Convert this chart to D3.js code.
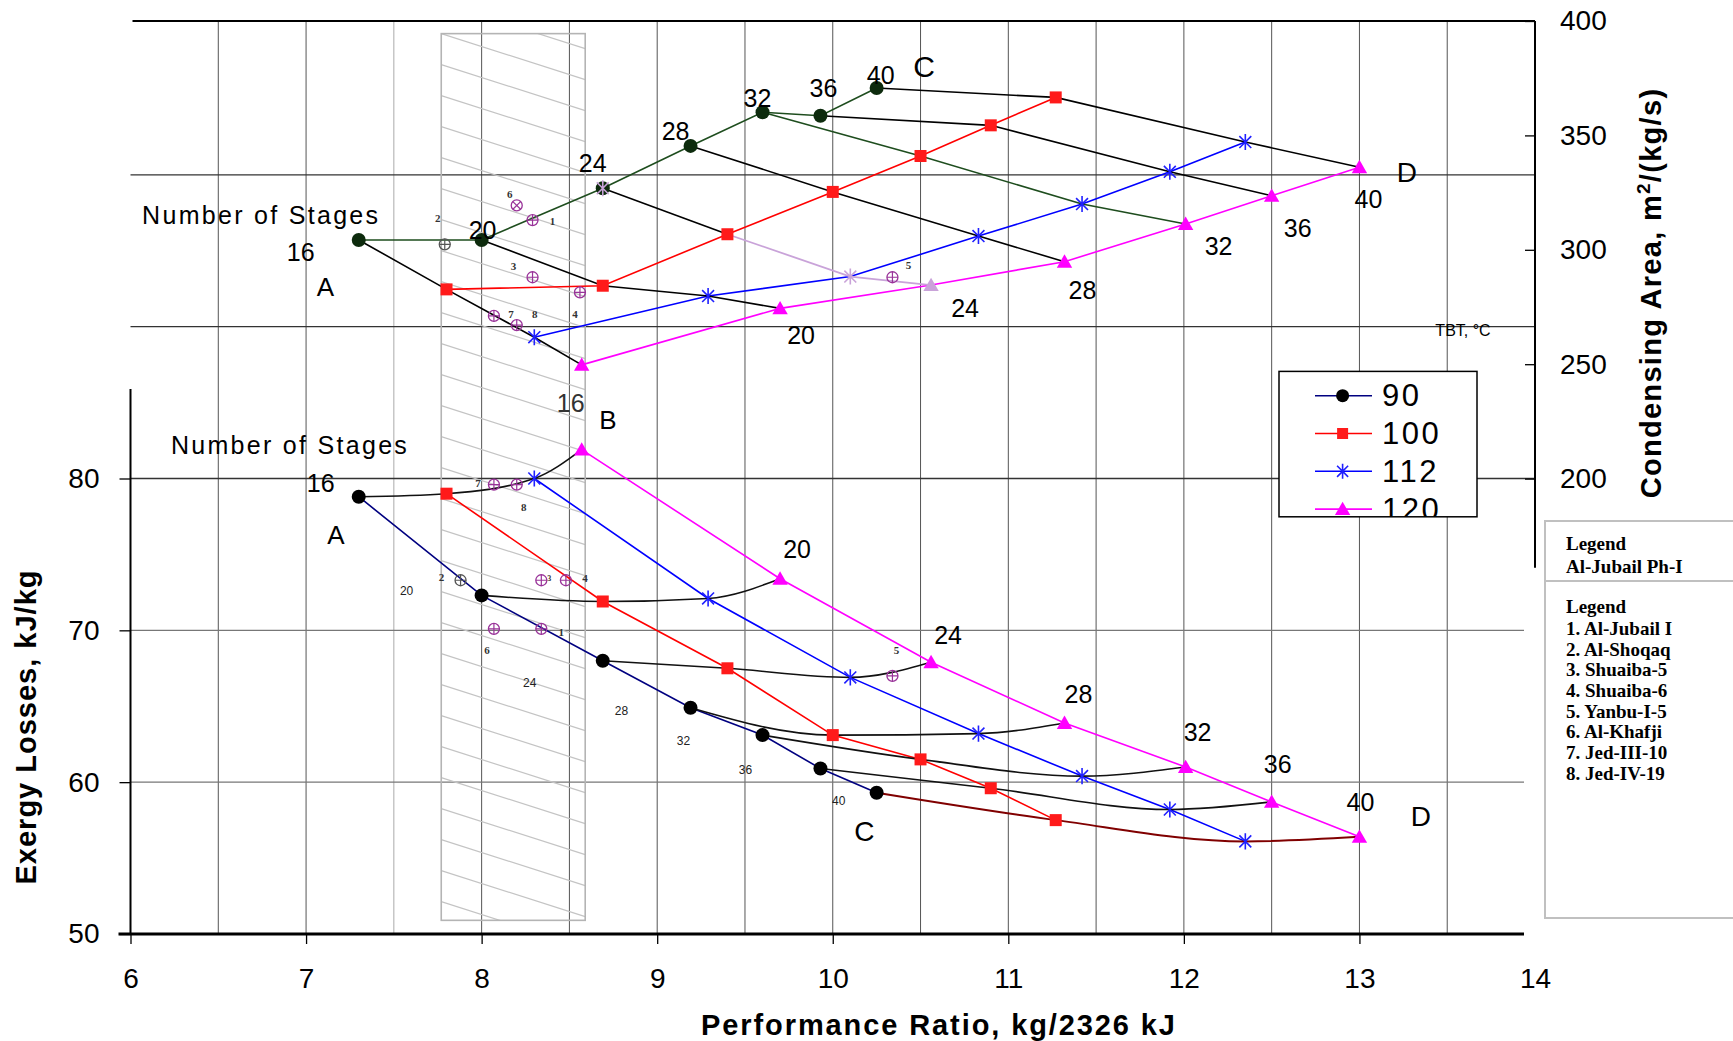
<!DOCTYPE html>
<html>
<head>
<meta charset="utf-8">
<script src="https://cdn.jsdelivr.net/npm/d3@7"></script>
<style>
  body { margin: 0; background: #fff; }
  svg { display: block; font-family: "Liberation Sans", Arial, sans-serif; }
</style>
</head>
<body>
<div id="chart"></div>
<script>
// ---- data ----
var stages = [16, 20, 24, 28, 32, 36, 40];
var tbtLevels = [90, 100, 112, 120];

// performance ratio, kg/2326 kJ (same for both panels)
var pr90  = [7.30, 8.00, 8.69, 9.19, 9.60, 9.93, 10.25];
var pr100 = [7.80, 8.69, 9.40, 10.00, 10.50, 10.90, 11.27];
var pr112 = [8.30, 9.29, 10.10, 10.83, 11.42, 11.92, 12.35];
var pr120 = [8.57, 9.70, 10.56, 11.32, 12.01, 12.50, 13.00];

// condensing area, m2/(kg/s)
var area90  = [304.3, 304.3, 326.9, 345.4, 360.1, 358.6, 370.7];
var area100 = [282.7, 284.3, 306.8, 325.3, 341.0, 354.4, 366.6];
var area112 = [261.8, 279.8, 288.3, 306.0, 320.0, 334.1, 347.1];
var area120 = [249.7, 274.4, 284.6, 294.8, 311.3, 323.6, 336.1];

// exergy losses, kJ/kg
var exergy90  = [78.8, 72.3, 68.0, 64.9, 63.1, 60.9, 59.3];
var exergy100 = [79.0, 71.9, 67.5, 63.1, 61.5, 59.6, 57.5];
var exergy112 = [80.0, 72.1, 66.9, 63.2, 60.4, 58.2, 56.1];
var exergy120 = [81.9, 73.4, 67.9, 63.9, 61.0, 58.7, 56.4];

// existing plants (numbered 1..8)
var plantNames  = ["Al-Jubail I", "Al-Shoqaq", "Shuaiba-5", "Shuaiba-6", "Yanbu-I-5", "Al-Khafji", "Jed-III-10", "Jed-IV-19"];
var plantPRTop  = [8.29, 7.79, 8.29, 8.56, 10.34, 8.20, 8.07, 8.20];
var plantArea   = [313.0, 302.4, 288.0, 281.4, 288.0, 319.4, 271.1, 267.1];
var plantPRBot  = [8.34, 7.88, 8.34, 8.48, 10.34, 8.07, 8.07, 8.20];
var plantExergy = [70.1, 73.3, 73.3, 73.3, 67.0, 70.1, 79.6, 79.6];

// shaded band of existing plants
var bandPR = [7.77, 8.59];
var bandExergy = [50.9, 109.3];

// ticks
var prTicks = [6, 7, 8, 9, 10, 11, 12, 13, 14];
var prGrid = [6.5, 7, 7.5, 8, 8.5, 9, 9.5, 10, 10.5, 11, 11.5, 12, 12.5, 13, 13.5];
var exergyTicks = [50, 60, 70, 80];
var exergyGrid = [60, 70, 80, 90, 100];
var areaTicks = [200, 250, 300, 350, 400];

// ---- layout ----
var margin = {left: 130.5, bottom: 934};
var svg = d3.select("#chart")
  .append("svg")
    .attr("width", 1733)
    .attr("height", 1041);
var defs = svg.append("defs");
var g = svg.append("g")
    .attr("transform", "translate(" + margin.left + ",0)");

var x = d3.scaleLinear().domain([6, 14]).range([0, 1404.5]);
var yE = d3.scaleLinear().domain([50, 110]).range([934, 23]);
var yA = d3.scaleLinear().domain([200, 400]).range([478.6, 21]);
var plotRight = 1393.5;

var prs = [pr90, pr100, pr112, pr120];
var areas = [area90, area100, area112, area120];
var exergies = [exergy90, exergy100, exergy112, exergy120];
var series = tbtLevels.map(function(t, i) {
  return {tbt: t, pts: stages.map(function(s, j) {
    return {stage: s, pr: prs[i][j], area: areas[i][j], ex: exergies[i][j]};
  })};
});
var markerType = ["circle", "square", "star", "triangle"];
var topColor = ["#1e4d1e", "#ff0000", "#0000ff", "#ff00ff"];
var botColor = ["#000080", "#ff0000", "#0000ff", "#ff00ff"];
var markFill = ["#0d2b0d", "#ff1a1a", "#2020ff", "#ff00ff"];
var markFillBot = ["#000", "#ff1a1a", "#2020ff", "#ff00ff"];

// ---- grid ----
g.selectAll(".vgrid").data(prGrid).enter().append("line")
    .attr("x1", function(d) { return x(d); })
    .attr("x2", function(d) { return x(d); })
    .attr("y1", yA(400)).attr("y2", yE(50))
    .attr("stroke", function(d) { return d === 7.5 ? "#aaa" : "#555"; })
    .attr("stroke-width", 1);

g.selectAll(".hgrid").data(exergyGrid).enter().append("line")
    .attr("x1", 0)
    .attr("x2", function(d) { return d >= 80 ? x(14) : plotRight; })
    .attr("y1", function(d) { return yE(d); })
    .attr("y2", function(d) { return yE(d); })
    .attr("stroke", function(d) { return d >= 80 ? "#333" : "#777"; })
    .attr("stroke-width", 1.3);

// top frame line
g.append("line")
    .attr("x1", 2).attr("x2", x(14))
    .attr("y1", yA(400)).attr("y2", yA(400))
    .attr("stroke", "#000").attr("stroke-width", 2);

// ---- hatched band ----
var bx0 = x(bandPR[0]), bx1 = x(bandPR[1]);
var by0 = yE(bandExergy[1]), by1 = yE(bandExergy[0]);
defs.append("clipPath").attr("id", "bandClip")
  .append("rect")
    .attr("x", bx0).attr("y", by0)
    .attr("width", bx1 - bx0).attr("height", by1 - by0);
g.append("g")
    .attr("clip-path", "url(#bandClip)")
  .selectAll("line").data(d3.range(-6, 30)).enter().append("line")
    .attr("x1", bx0).attr("x2", bx1)
    .attr("y1", function(k) { return by0 + 31 + k * 31; })
    .attr("y2", function(k) { return by0 + 31 + k * 31 + 0.32 * (bx1 - bx0); })
    .attr("stroke", "#c4c4c4").attr("stroke-width", 1.2);
g.append("rect")
    .attr("x", bx0).attr("y", by0)
    .attr("width", bx1 - bx0).attr("height", by1 - by0)
    .attr("fill", "none").attr("stroke", "#b4b4b4").attr("stroke-width", 1.6);

// ---- axes ----
// bottom axis
var xAxis = g.append("g")
    .attr("transform", "translate(0," + yE(50) + ")")
    .call(d3.axisBottom(x).tickValues(prTicks).tickSize(10).tickPadding(24).tickFormat(d3.format("d")));
xAxis.select(".domain").remove();
xAxis.selectAll("line").attr("stroke", "#000").attr("stroke-width", 1.3);
xAxis.selectAll(".tick").filter(function(d) { return d === 14; }).select("line").remove();
xAxis.selectAll("text").attr("font-size", "28px").attr("fill", "#000")
    .attr("font-family", "Liberation Sans, Arial, sans-serif");
g.append("line")
    .attr("x1", -12).attr("x2", plotRight)
    .attr("y1", yE(50)).attr("y2", yE(50))
    .attr("stroke", "#000").attr("stroke-width", 3);

// left axis (exergy)
var yAxisL = g.append("g")
    .call(d3.axisLeft(yE).tickValues(exergyTicks).tickSize(11).tickPadding(20));
yAxisL.select(".domain").remove();
yAxisL.selectAll("line").attr("stroke", "#000").attr("stroke-width", 1.3);
yAxisL.selectAll("text").attr("font-size", "28px").attr("fill", "#000")
    .attr("font-family", "Liberation Sans, Arial, sans-serif");
g.append("line")
    .attr("x1", 0).attr("x2", 0)
    .attr("y1", yE(85.9)).attr("y2", yE(50))
    .attr("stroke", "#000").attr("stroke-width", 2);

// right axis (condensing area)
var yAxisR = g.append("g")
    .attr("transform", "translate(" + x(14) + ",0)")
    .call(d3.axisRight(yA).tickValues(areaTicks).tickSizeInner(-10).tickSizeOuter(0).tickPadding(25));
yAxisR.select(".domain").remove();
yAxisR.selectAll("line").attr("stroke", "#000").attr("stroke-width", 1.3);
yAxisR.selectAll("text").attr("font-size", "28px").attr("fill", "#000")
    .attr("font-family", "Liberation Sans, Arial, sans-serif");
g.append("line")
    .attr("x1", x(14)).attr("x2", x(14))
    .attr("y1", yA(400)).attr("y2", yA(161))
    .attr("stroke", "#000").attr("stroke-width", 2);

// axis titles
svg.append("text")
    .attr("x", 939).attr("y", 1035)
    .attr("text-anchor", "middle")
    .attr("font-size", "29px").attr("font-weight", "bold")
    .attr("letter-spacing", "1.9px")
    .text("Performance Ratio, kg/2326 kJ");
svg.append("text")
    .attr("transform", "translate(36,727) rotate(-90)")
    .attr("text-anchor", "middle")
    .attr("font-size", "29px").attr("font-weight", "bold")
    .attr("letter-spacing", "1px")
    .text("Exergy Losses, kJ/kg");
var rt = svg.append("text")
    .attr("transform", "translate(1661,293) rotate(-90)")
    .attr("text-anchor", "middle")
    .attr("font-size", "29px").attr("font-weight", "bold")
    .attr("letter-spacing", "1.3px");
rt.append("tspan").text("Condensing Area, m");
rt.append("tspan").attr("dy", "-11").attr("font-size", "19px").text("2");
rt.append("tspan").attr("dy", "11").text("/(kg/s)");

// ---- marker helper ----
function drawMarker(parent, type, cx, cy, color, s) {
  if (type === "circle") {
    parent.append("circle").attr("cx", cx).attr("cy", cy).attr("r", s).attr("fill", color);
  } else if (type === "square") {
    parent.append("rect").attr("x", cx - s).attr("y", cy - s)
      .attr("width", 2 * s).attr("height", 2 * s).attr("fill", color);
  } else if (type === "star") {
    var p = d3.path();
    p.moveTo(cx - s * 0.85, cy - s * 0.85); p.lineTo(cx + s * 0.85, cy + s * 0.85);
    p.moveTo(cx - s * 0.85, cy + s * 0.85); p.lineTo(cx + s * 0.85, cy - s * 0.85);
    p.moveTo(cx, cy - s * 1.15); p.lineTo(cx, cy + s * 1.15);
    parent.append("path").attr("d", p.toString()).attr("stroke", color)
      .attr("stroke-width", 1.6).attr("fill", "none");
  } else if (type === "triangle") {
    parent.append("path")
      .attr("d", "M" + cx + "," + (cy - s * 1.05) + "L" + (cx + s * 1.1) + "," + (cy + s * 0.85) +
                 "L" + (cx - s * 1.1) + "," + (cy + s * 0.85) + "Z")
      .attr("fill", color);
  }
}
var markSize = [7, 6, 7, 7];

// ---- top panel: condensing area ----
var lineTop = d3.line()
    .x(function(d) { return x(d.pr); })
    .y(function(d) { return yA(d.area); });
series.forEach(function(s, i) {
  g.append("path").datum(s.pts)
    .attr("fill", "none").attr("stroke", topColor[i]).attr("stroke-width", 1.6)
    .attr("d", lineTop);
});
// constant-stage lines
var crossTopColor = ["#000", "#000", "#000", "#000", "#1e4d1e", "#000", "#000"];
stages.forEach(function(st, j) {
  var pts = series.map(function(s) { return s.pts[j]; });
  if (st === 24) {
    g.append("path").datum(pts.slice(0, 2))
      .attr("fill", "none").attr("stroke", "#000").attr("stroke-width", 1.6).attr("d", lineTop);
    g.append("path").datum(pts.slice(1))
      .attr("fill", "none").attr("stroke", "#c9a3d9").attr("stroke-width", 1.8).attr("d", lineTop);
  } else {
    g.append("path").datum(pts)
      .attr("fill", "none").attr("stroke", crossTopColor[j]).attr("stroke-width", 1.6).attr("d", lineTop);
  }
});
series.forEach(function(s, i) {
  s.pts.forEach(function(d) {
    var col = markFill[i];
    if (d.stage === 24 && i >= 2) col = "#c9a3d9";
    drawMarker(g, markerType[i], x(d.pr), yA(d.area), col, markSize[i]);
    if (d.stage === 24 && i === 0) drawMarker(g, "star", x(d.pr), yA(d.area), "#c9a3d9", 7);
  });
});

// ---- bottom panel: exergy losses ----
var lineBot = d3.line()
    .x(function(d) { return x(d.pr); })
    .y(function(d) { return yE(d.ex); });
var curveBot = d3.line()
    .curve(d3.curveMonotoneX)
    .x(function(d) { return x(d.pr); })
    .y(function(d) { return yE(d.ex); });
series.forEach(function(s, i) {
  g.append("path").datum(s.pts)
    .attr("fill", "none").attr("stroke", botColor[i]).attr("stroke-width", 1.6)
    .attr("d", lineBot);
});
stages.forEach(function(st, j) {
  var pts = series.map(function(s) { return s.pts[j]; });
  g.append("path").datum(pts)
    .attr("fill", "none").attr("stroke", st === 40 ? "#800000" : "#111")
    .attr("stroke-width", st === 40 ? 2 : 1.6)
    .attr("d", curveBot);
});
series.forEach(function(s, i) {
  s.pts.forEach(function(d) {
    drawMarker(g, markerType[i], x(d.pr), yE(d.ex), markFillBot[i], markSize[i]);
  });
});

// ---- existing plants ----
function plantMark(cx, cy, color, cross) {
  var r = 5.5;
  g.append("circle").attr("cx", cx).attr("cy", cy).attr("r", r)
    .attr("fill", "none").attr("stroke", color).attr("stroke-width", 1.3);
  var p = d3.path();
  if (cross) {
    var k = r * 0.7;
    p.moveTo(cx - k, cy - k); p.lineTo(cx + k, cy + k);
    p.moveTo(cx - k, cy + k); p.lineTo(cx + k, cy - k);
  } else {
    p.moveTo(cx - r, cy); p.lineTo(cx + r, cy);
    p.moveTo(cx, cy - r); p.lineTo(cx, cy + r);
  }
  g.append("path").attr("d", p.toString()).attr("stroke", color).attr("stroke-width", 1.2);
}
var plantTopOff = [[20, 1], [-7, -26], [-19, -11], [-5, 22], [16, -12], [-7, -11], [17, -2], [18, -11]];
var plantBotOff = [[20, 3], [-19, -3], [8, -2], [19, -2], [4, -26], [-7, 21], [-16, -2], [7, 22]];
plantNames.forEach(function(name, i) {
  var col = i === 1 ? "#555" : "#993399";
  var tx = x(plantPRTop[i]), ty = yA(plantArea[i]);
  plantMark(tx, ty, col, i === 5);
  g.append("text").attr("x", tx + plantTopOff[i][0]).attr("y", ty + plantTopOff[i][1])
    .attr("text-anchor", "middle").attr("dominant-baseline", "central")
    .attr("font-family", "Liberation Serif, Times New Roman, serif").attr("font-weight", "bold")
    .attr("font-size", "11px").attr("fill", "#333").text(i + 1);
  var bxp = x(plantPRBot[i]), byp = yE(plantExergy[i]);
  plantMark(bxp, byp, col, false);
  g.append("text").attr("x", bxp + plantBotOff[i][0]).attr("y", byp + plantBotOff[i][1])
    .attr("text-anchor", "middle").attr("dominant-baseline", "central")
    .attr("font-family", "Liberation Serif, Times New Roman, serif").attr("font-weight", "bold")
    .attr("font-size", i === 2 ? "8px" : "11px").attr("fill", "#333").text(i + 1);
});

// ---- stage number labels ----
function label(px, py, txt, size, color) {
  g.append("text").attr("x", px).attr("y", py)
    .attr("text-anchor", "middle").attr("dominant-baseline", "central")
    .attr("font-size", size + "px").attr("fill", color || "#000").text(txt);
}
var top90Off = [[-58, 12], [1, -10], [-10, -25], [-15, -15], [-5, -14], [3, -28], [4, -13]];
var top120Off = [[-11, 38], [21, 27], [34, 23], [18, 28], [33, 22], [26, 32], [9, 32]];
stages.forEach(function(st, j) {
  var p = series[0].pts[j];
  label(x(p.pr) + top90Off[j][0], yA(p.area) + top90Off[j][1], st, 25);
  var q = series[3].pts[j];
  label(x(q.pr) + top120Off[j][0], yA(q.area) + top120Off[j][1], st, 25, j === 0 ? "#333" : "#000");
});
var bot120Off = [null, [17, -30], [17, -27], [14, -29], [12, -35], [6, -38], [1, -35]];
var bot90Off = [[-38, -14], [-75, -4], [-73, 22], [-69, 3], [-79, 6], [-75, 1], [-38, 8]];
stages.forEach(function(st, j) {
  var p = series[0].pts[j];
  if (j === 0) label(x(p.pr) + bot90Off[j][0], yE(p.ex) + bot90Off[j][1], st, 25);
  else label(x(p.pr) + bot90Off[j][0], yE(p.ex) + bot90Off[j][1], st, 12, "#222");
  if (j > 0) {
    var q = series[3].pts[j];
    label(x(q.pr) + bot120Off[j][0], yE(q.ex) + bot120Off[j][1], st, 25);
  }
});

// corner letters
label(x(7.11), yA(283.7), "A", 26);
label(x(8.72), yA(225.6), "B", 26);
label(x(10.52), yA(380.0), "C", 30);
label(x(13.27), yA(333.8), "D", 28);
label(x(7.17), yE(76.28), "A", 26);
label(x(10.18), yE(56.74), "C", 28);
label(x(13.35), yE(57.73), "D", 28);

g.append("text").attr("x", x(6.066)).attr("y", yA(315.2))
  .attr("dominant-baseline", "central").attr("font-size", "25px")
  .attr("letter-spacing", "2.3px").text("Number of Stages");
g.append("text").attr("x", x(6.23)).attr("y", yE(82.21))
  .attr("dominant-baseline", "central").attr("font-size", "25px")
  .attr("letter-spacing", "2.3px").text("Number of Stages");
label(x(13.59), yA(264.8), "TBT, °C", 16);

// ---- TBT legend ----
var lg = svg.append("g");
defs.append("clipPath").attr("id", "legClip")
  .append("rect").attr("x", 1279).attr("y", 371.4).attr("width", 198).attr("height", 145.4);
lg.append("rect").attr("x", 1279).attr("y", 371.4).attr("width", 198).attr("height", 145.4)
  .attr("fill", "#fff");
var lgItems = lg.append("g").attr("clip-path", "url(#legClip)");
tbtLevels.forEach(function(t, i) {
  var ly = 395.7 + i * 37.8;
  lgItems.append("line").attr("x1", 1315).attr("x2", 1372).attr("y1", ly).attr("y2", ly)
    .attr("stroke", botColor[i]).attr("stroke-width", 1.6);
  drawMarker(lgItems, markerType[i], 1342.6, ly, markFillBot[i], [6.5, 5.5, 6.5, 7][i]);
  lgItems.append("text").attr("x", 1382).attr("y", ly)
    .attr("dominant-baseline", "central").attr("font-size", "31px")
    .attr("letter-spacing", "2.5px").text(t);
});
lg.append("rect").attr("x", 1279).attr("y", 371.4).attr("width", 198).attr("height", 145.4)
  .attr("fill", "none").attr("stroke", "#000").attr("stroke-width", 1.5);

// ---- plants legend ----
var pl = svg.append("g")
    .attr("font-family", "Liberation Serif, Times New Roman, serif")
    .attr("font-weight", "bold").attr("font-size", "19px");
pl.append("rect").attr("x", 1545).attr("y", 521).attr("width", 200).attr("height", 60)
  .attr("fill", "#fff").attr("stroke", "#c0c0c0").attr("stroke-width", 2);
pl.append("rect").attr("x", 1545).attr("y", 581).attr("width", 200).attr("height", 337)
  .attr("fill", "#fff").attr("stroke", "#c0c0c0").attr("stroke-width", 2);
pl.append("text").attr("x", 1566).attr("y", 543.3).attr("dominant-baseline", "central").text("Legend");
pl.append("text").attr("x", 1566).attr("y", 566.7).attr("dominant-baseline", "central").text("Al-Jubail Ph-I");
pl.append("text").attr("x", 1566).attr("y", 606.7).attr("dominant-baseline", "central").text("Legend");
pl.selectAll(".pn").data(plantNames).enter().append("text")
    .attr("x", 1566)
    .attr("y", function(d, i) { return 628.3 + i * 20.7; })
    .attr("dominant-baseline", "central")
    .text(function(d, i) { return (i + 1) + ". " + d; });
</script>
</body>
</html>
